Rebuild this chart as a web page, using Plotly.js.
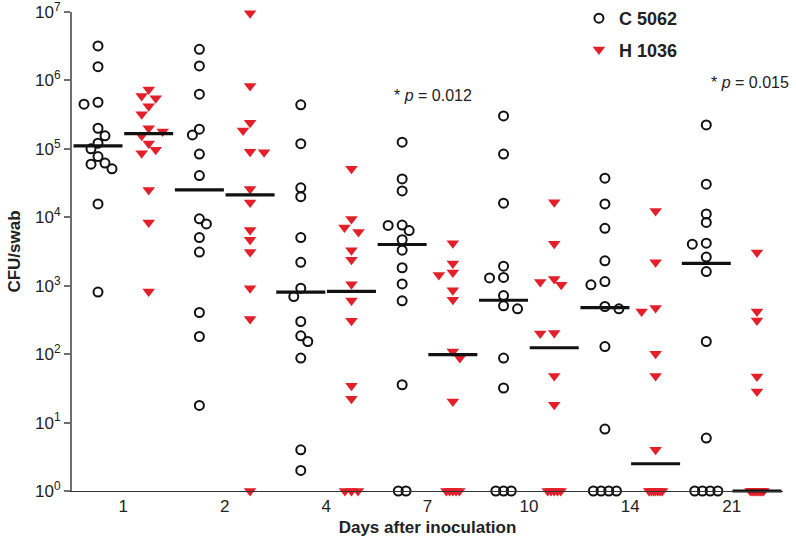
<!DOCTYPE html>
<html><head><meta charset="utf-8">
<script src="https://cdn.plot.ly/plotly-3.0.1.min.js"></script>
<style>html,body{margin:0;padding:0;background:#fff}#chart{width:796px;height:546px}</style>
</head><body><div id="chart"></div>
<script>
// ---- data (CFU/swab) ----
const days = ['1','2','4','7','10','14','21'];
const yTickVals = [1,10,100,1000,10000,100000,1000000,10000000];
const yTickText = ['10<sup>0</sup>','10<sup>1</sup>','10<sup>2</sup>','10<sup>3</sup>','10<sup>4</sup>','10<sup>5</sup>','10<sup>6</sup>','10<sup>7</sup>'];

const c5062_day1  = [3.19e6,1.59e6,4.8e5,4.49e5,2.0e5,1.55e5,1.21e5,1.0e5,7.7e4,6.2e4,5.97e4,5.1e4,1.57e4,806];
const c5062_day2  = [2.85e6,1.63e6,6.3e5,1.94e5,1.6e5,8.4e4,4.07e4,9.5e3,8.0e3,5.06e3,3.1e3,406,181,17.8];
const c5062_day4  = [4.4e5,1.19e5,2.7e4,2.0e4,5.06e3,2.2e3,922,695,300,185,153,87.5,4.0,2.0];
const c5062_day7  = [1.25e5,3.64e4,2.43e4,7.7e3,7.6e3,6.4e3,4.7e3,3.3e3,1.83e3,1.06e3,602,35.7,1,1];
const c5062_day10 = [3.03e5,8.4e4,1.61e4,1.93e3,1.32e3,1.30e3,719,508,460,87.5,32,1,1,1];
const c5062_day14 = [3.73e4,1.57e4,6.9e3,2.31e3,1.15e3,1.03e3,497,460,129,8.05,1,1,1,1];
const c5062_day21 = [2.24e5,3.05e4,1.12e4,8.4e3,4.19e3,4.05e3,2.62e3,1.61e3,153,5.94,1,1,1,1];

const h1036_day1  = [7.4e5,5.9e5,5.5e5,4.2e5,3.2e5,2.0e5,1.8e5,1.55e5,1.2e5,9.7e4,8.6e4,2.5e4,8.4e3,823];
const h1036_day2  = [9.6e6,8.3e5,2.4e5,1.85e5,9.1e4,8.9e4,2.6e4,1.64e4,6.5e3,4.7e3,3.1e3,922,325,1];
const h1036_day4  = [5.1e4,9.4e3,7.1e3,6.1e3,3.3e3,2.4e3,1.05e3,608,307,34.5,22.3,1,1,1];
const h1036_day7  = [4.19e3,2.12e3,1.56e3,1.44e3,857,622,109,87.5,20.4,1,1,1,1,1];
const h1036_day10 = [1.66e4,4.12e3,1.25e3,1.13e3,1.03e3,203,200,48,18.2,1,1,1,1,1];
const h1036_day14 = [1.24e4,2.21e3,471,420,101,48,4.0,1,1,1,1,1,1,1];
const h1036_day21 = [3.07e3,420,310,47,28.5,1,1,1,1,1,1,1,1,1];

const c5062 = [c5062_day1,c5062_day2,c5062_day4,c5062_day7,c5062_day10,c5062_day14,c5062_day21];
const h1036 = [h1036_day1,h1036_day2,h1036_day4,h1036_day7,h1036_day10,h1036_day14,h1036_day21];

// ---- layout geometry ----
const W = 796, H = 546;
const M = {l:72, r:13, t:0, b:55, pad:0};
const plotTop = 12;                         // px from top where the y axis starts
const yDomainTop = 1 - plotTop / (H - M.t - M.b);
const xRange = [-0.513, 13.513];
const yRange = [0, 7];
const pxPerX = (W - M.l - M.r) / (xRange[1] - xRange[0]);
const pxPerDec = (H - M.t - M.b - plotTop) / (yRange[1] - yRange[0]);

// simple beeswarm: returns x offsets in data units
function swarm(values, step, minDist, tieHalf) {
  const n = values.length;
  const off = new Array(n).fill(0);
  const idx = values.map((v,i)=>i).sort((a,b)=>values[b]-values[a]);
  const placed = [];
  let lastSide = 1;
  let k = 0;
  while (k < n) {
    let j = k;
    while (j + 1 < n && values[idx[j+1]] === values[idx[k]]) j++;
    const g = j - k + 1;
    const y = Math.log10(values[idx[k]]) * pxPerDec;
    if (g > 1) {
      const sp = Math.min(step * 1.1, (2 * tieHalf) / (g - 1));
      for (let q = 0; q < g; q++) {
        const o = (q - (g - 1) / 2) * sp;
        off[idx[k+q]] = o / pxPerX;
        placed.push({x:o, y:y});
      }
    } else {
      const cands = [0, -lastSide*step, lastSide*step, -2*lastSide*step, 2*lastSide*step];
      let best = 0, bestPen = Infinity;
      for (const c of cands) {
        let pen = 0;
        for (const p of placed) {
          const d = Math.hypot(p.x - c, p.y - y);
          if (d < minDist) pen += (minDist - d);
        }
        if (pen === 0) { best = c; bestPen = 0; break; }
        if (pen < bestPen) { bestPen = pen; best = c; }
      }
      if (best !== 0) lastSide = Math.sign(best);
      off[idx[k]] = best / pxPerX;
      placed.push({x:best, y:y});
    }
    k = j + 1;
  }
  return off;
}

function median(arr) {
  const s = arr.slice().sort((a,b)=>a-b);
  const m = s.length >> 1;
  return s.length % 2 ? s[m] : (s[m-1] + s[m]) / 2;
}

const RED = '#e3202a';
const traces = [];
function addSeries(groups, name, colOffset, symbol, color, size, lw, tieHalf, legendgroup) {
  const xs = [], ys = [];
  groups.forEach((vals, d) => {
    const col = 2 * d + colOffset;
    const off = swarm(vals, 7, 8.5, tieHalf);
    vals.forEach((v, i) => { xs.push(col + off[i]); ys.push(v); });
  });
  traces.push({
    type:'scatter', mode:'markers', name:name, x:xs, y:ys, cliponaxis:false,
    legendgroup:legendgroup,
    marker: symbol === 'circle-open'
      ? {symbol:symbol, size:size, color:color, line:{color:color, width:lw}}
      : {symbol:symbol, size:size, color:color, line:{width:0}}
  });
  // medians
  const mx = [], my = [];
  groups.forEach((vals, d) => { mx.push(2 * d + colOffset); my.push(median(vals)); });
  traces.push({
    type:'scatter', mode:'markers', x:mx, y:my, cliponaxis:false, showlegend:false, hoverinfo:'skip',
    marker:{symbol:'line-ew', size:35, color:'#111', line:{color:'#111', width:3.2}}
  });
}
addSeries(c5062, 'C 5062', 0, 'circle-open', '#111', 9, 2, 12, 'a');
addSeries(h1036, 'H 1036', 1, 'triangle-down', RED, 11, 0, 6.5, 'b');

const tickPos = days.map((d,i)=>2*i + 0.5);
const paperY = px => 1 - px / (H - M.t - M.b);

const layout = {
  width:W, height:H, margin:M,
  paper_bgcolor:'#fff', plot_bgcolor:'#fff',
  font:{family:'Arial, "Liberation Sans", sans-serif', color:'#222', size:16},
  showlegend:true,
  legend:{x:0.713, xanchor:'left', y:1, yanchor:'top', bgcolor:'rgba(0,0,0,0)',
          font:{size:18, color:'#222', weight:'bold'}, tracegroupgap:5, itemwidth:30},
  xaxis:{
    range:xRange, showgrid:false, zeroline:false, showline:true, linecolor:'#333', linewidth:1,
    ticks:'', tickmode:'array', tickvals:tickPos, ticktext:days,
    tickfont:{size:17, color:'#222'},
    title:{text:'Days after inoculation', font:{size:17, weight:'bold', color:'#222'}, standoff:5}
  },
  yaxis:{
    type:'log', range:yRange, domain:[0, yDomainTop],
    showgrid:false, zeroline:false, showline:true, linecolor:'#6e6e6e', linewidth:2,
    ticks:'outside', ticklen:6, tickwidth:2, tickcolor:'#6e6e6e',
    tickmode:'array', tickvals:yTickVals, ticktext:yTickText, ticklabeloverflow:'allow',
    tickfont:{size:17, color:'#222'},
    title:{text:'CFU/swab', font:{size:17, weight:'bold', color:'#222'}, standoff:10}
  },
  annotations:[
    {xref:'paper', yref:'paper', x:0.5084, y:paperY(95.7), text:'* <i>p</i> = 0.012', showarrow:false,
     font:{size:16, color:'#222'}, xanchor:'center', yanchor:'middle'},
    {xref:'paper', yref:'paper', x:0.9536, y:paperY(82.7), text:'* <i>p</i> = 0.015', showarrow:false,
     font:{size:16, color:'#222'}, xanchor:'center', yanchor:'middle'}
  ]
};

Plotly.newPlot('chart', traces, layout, {displayModeBar:false, staticPlot:true});
</script>
</body></html>
